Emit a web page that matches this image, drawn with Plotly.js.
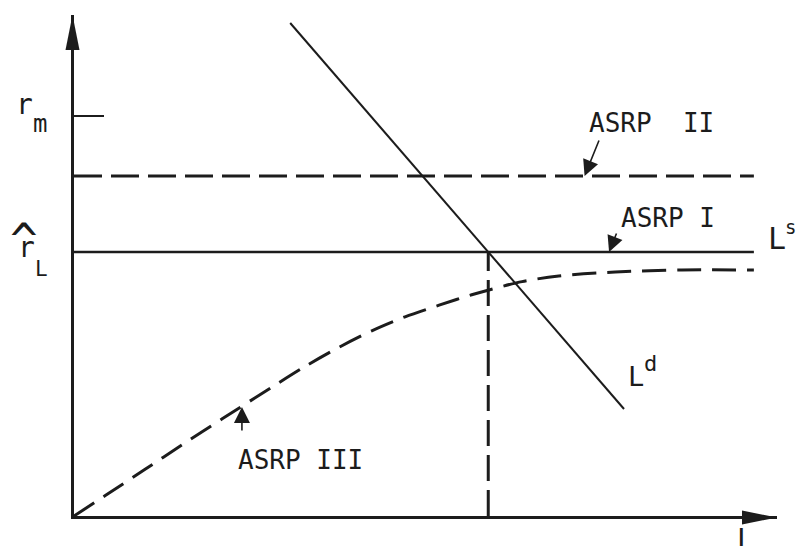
<!DOCTYPE html>
<html>
<head>
<meta charset="utf-8">
<script src="https://cdn.plot.ly/plotly-3.0.1.min.js"></script>
<style>html,body{margin:0;padding:0;background:#fff;}#chart{width:797px;height:546px;}</style>
</head>
<body>
<div id="chart"></div>
<script>
// ---- data (conceptual units: L on x, interest rate r on y) ----
const rM = 100;            // r_m tick level
const asrp2Level = 85;     // ASRP II (dashed horizontal)
const rL = 66;             // r-hat_L : ASRP I = L^s (solid horizontal)
const lineEndX = 100;      // where horizontal schedules end
const ldX = [31.8, 80.9];  // L^d demand line
const ldY = [123.25, 26.75];
const asrp3X = [0, 4.6, 10.4, 15.9, 21.8, 29.1, 34.0, 39.0, 43.8, 48.7, 53.7, 58.5, 65.9, 71.3, 79.6, 89.4, 100];
const asrp3Y = [0, 5.1, 11.6, 17.8, 24.3, 32.2, 37.4, 42.2, 46.3, 49.8, 52.7, 55.3, 58.6, 60.0, 61.0, 61.5, 61.5];

// intersection of L^d with r-hat_L
const tI = (ldY[0] - rL) / (ldY[0] - ldY[1]);
const xI = ldX[0] + tI * (ldX[1] - ldX[0]);

const xRange = [0, 103.4], yRange = [0, 125.25];
const ink = '#1c1c1c';
const mono = 'DejaVu Sans Mono, monospace';

const traces = [
  {x: [0, lineEndX], y: [asrp2Level, asrp2Level], mode: 'lines',
   line: {color: ink, width: 3, dash: '28px,9px'}},
  {x: [0, lineEndX], y: [rL, rL], mode: 'lines',
   line: {color: ink, width: 2.5}},
  {x: ldX, y: ldY, mode: 'lines', line: {color: ink, width: 2}},
  {x: [xI, xI], y: [0, rL], mode: 'lines',
   line: {color: ink, width: 3, dash: '26px,9px'}},
  {x: asrp3X, y: asrp3Y, mode: 'lines',
   line: {color: ink, width: 3, dash: '24px,11px', shape: 'spline', smoothing: 0.8}}
];

// data -> paper conversion so labels outside the axis range are still drawn
const px = v => (v - xRange[0]) / (xRange[1] - xRange[0]);
const py = v => (v - yRange[0]) / (yRange[1] - yRange[0]);

function txt(x, y, text, size, xanchor) {
  return {x: px(x), y: py(y), xref: 'paper', yref: 'paper', text: text, showarrow: false,
          xanchor: xanchor || 'center', yanchor: 'middle', borderpad: 0,
          font: {family: mono, size: size, color: ink}};
}
function arr(x, y, ax, ay) {
  return {x: x, y: y, xref: 'x', yref: 'y', ax: ax, ay: ay, text: '',
          showarrow: true, arrowhead: 2, arrowsize: 2, arrowwidth: 1.6,
          arrowcolor: ink, standoff: 0};
}

const annotations = [
  txt(-7.35, 102.9, 'r', 28),
  txt(-5.07, 98.1, 'm', 24),
  txt(-7.3, 68.9, '^', 46),
  txt(-7.0, 67.2, 'r', 28),
  txt(-4.85, 61.8, 'L', 21),
  txt(75.6, 98.2, 'ASRP  II', 26, 'left'),
  txt(80.3, 74.4, 'ASRP I', 26, 'left'),
  txt(24.0, 13.9, 'ASRP III', 26, 'left'),
  txt(103.4, 69.4, 'L', 30),
  txt(106.3, 72.2, 's', 19, 'right'),
  txt(82.6, 34.8, 'L', 27),
  txt(84.8, 38.1, 'd', 22),
  txt(98.8, -5.8, 'L', 28),
  arr(75.1, asrp2Level, 15, -37),
  arr(78.7, rL, 8, -20),
  arr(24.7, 27.25, 0, 25)
];

const shapes = [
  {type: 'path', xref: 'paper', yref: 'paper', xsizemode: 'pixel', ysizemode: 'pixel',
   xanchor: 0, yanchor: 1, path: 'M-1.5,0 L-8.5,-35 L5.5,-35 Z',
   fillcolor: ink, line: {width: 0}},
  {type: 'path', xref: 'paper', yref: 'paper', xsizemode: 'pixel', ysizemode: 'pixel',
   xanchor: 1, yanchor: 0, path: 'M0,-1.5 L-35,5.5 L-35,-8.5 Z',
   fillcolor: ink, line: {width: 0}}
];

const layout = {
  width: 797, height: 546,
  margin: {l: 74, r: 20, t: 15, b: 30, pad: 0},
  paper_bgcolor: '#fff', plot_bgcolor: '#fff',
  showlegend: false,
  xaxis: {range: xRange, showgrid: false, zeroline: false, showticklabels: false,
          ticks: '', showline: true, linewidth: 3, linecolor: ink, fixedrange: true},
  yaxis: {range: yRange, showgrid: false, zeroline: false, showticklabels: false,
          tickvals: [rM], ticks: 'inside', ticklen: 30, tickwidth: 2, tickcolor: ink,
          showline: true, linewidth: 3, linecolor: ink, fixedrange: true},
  annotations: annotations,
  shapes: shapes
};

Plotly.newPlot('chart', traces, layout, {staticPlot: true, displayModeBar: false});
</script>
</body>
</html>
